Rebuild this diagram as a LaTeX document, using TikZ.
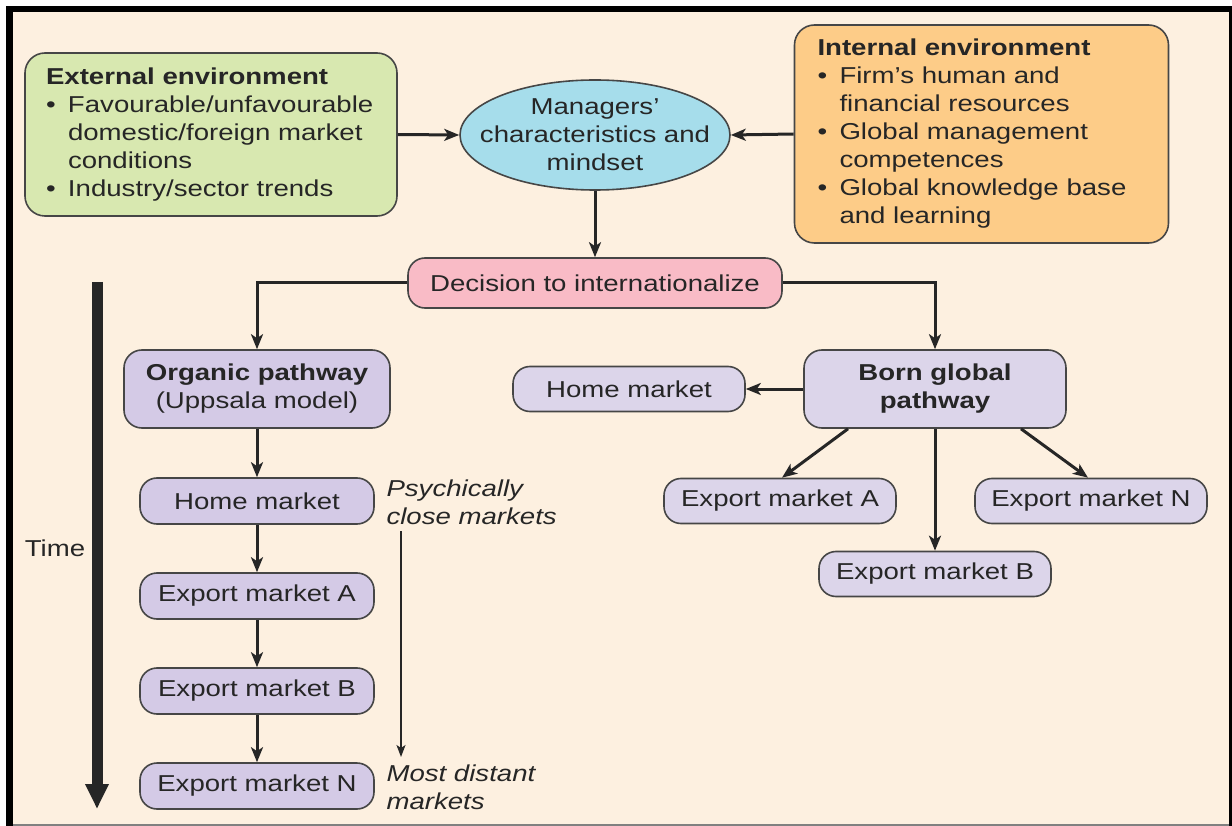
\documentclass[tikz,border=0pt]{standalone}
\usepackage{fontspec}
\setmainfont{Liberation Sans}[FakeStretch=1.2]
\usetikzlibrary{arrows.meta,calc,shapes.geometric}

\definecolor{bgcream}{RGB}{253,240,224}
\definecolor{extgreen}{RGB}{216,232,176}
\definecolor{intorange}{RGB}{253,204,136}
\definecolor{mindblue}{RGB}{166,221,235}
\definecolor{decpink}{RGB}{249,187,198}
\definecolor{orglav}{RGB}{212,202,230}
\definecolor{mktlav}{RGB}{220,213,234}
\definecolor{inkgray}{RGB}{38,38,38}
\definecolor{edgegray}{RGB}{70,70,70}

\newcommand\itembullet{\makebox[22pt][l]{•}}
\newcommand\itemgap{\hspace*{22pt}}

\tikzset{
  panel/.style={draw=edgegray, line width=1.6pt, rounded corners=20pt,
    text=inkgray, align=left, inner xsep=21pt, inner ysep=6pt, anchor=center},
  pathbox/.style={draw=edgegray, line width=1.6pt, rounded corners=18pt,
    text=inkgray, align=center, minimum width=264pt, minimum height=78pt, inner sep=2pt},
  mktbox/.style={draw=edgegray, line width=1.6pt, rounded corners=17pt,
    text=inkgray, align=center, minimum width=234pt, minimum height=46pt, inner sep=2pt},
  flow/.style={line width=3pt, draw=inkgray, -{Stealth[length=15pt,width=12pt,inset=4pt]}},
  thinflow/.style={line width=1.5pt, draw=inkgray, -{Stealth[length=12pt,width=9pt,inset=3pt]}},
  timeflow/.style={line width=11pt, draw=inkgray, -{Triangle[length=25pt,width=22pt]}},
  note/.style={text=inkgray, align=left, anchor=west, font=\fontsize{23}{28}\selectfont\itshape}
}

\begin{document}
\begin{tikzpicture}[x=1pt,y=-1pt,font=\fontsize{23}{28}\selectfont]
\useasboundingbox (0,0) rectangle (1232,826);

% page frame
\fill[white] (0,0) rectangle (1232,826);
\fill[black] (6,6) rectangle (1232,826);
\fill[bgcream] (13,12) rectangle (1229,824);
\fill[gray] (13,824) rectangle (1229,826);

% influences on the decision
\node[panel, fill=extgreen, minimum width=372pt, minimum height=163pt, text width=330pt]
  (ext) at (211,134.5) {\textbf{External environment}\\
  \itembullet Favourable/unfavourable\\
  \itemgap domestic/foreign market\\
  \itemgap conditions\\
  \itembullet Industry/sector trends};

\node[panel, fill=intorange, minimum width=373pt, minimum height=218pt, text width=328pt,
  inner xsep=23pt]
  (int) at (981.5,134) {\textbf{Internal environment}\\
  \itembullet Firm’s human and\\
  \itemgap financial resources\\
  \itembullet Global management\\
  \itemgap competences\\
  \itembullet Global knowledge base\\
  \itemgap and learning};

\node[ellipse, draw=edgegray, line width=1.6pt, fill=mindblue, text=inkgray, align=center,
  minimum width=270pt, minimum height=110pt, inner xsep=-30pt, inner ysep=-8pt]
  (mind) at (595,135) {Managers’\\characteristics and\\mindset};

\node[mktbox, fill=decpink, minimum width=374pt, minimum height=50pt]
  (dec) at (595,283) {Decision to internationalize};

% organic pathway
\node[pathbox, fill=orglav, minimum width=266pt] (org) at (257,389)
  {\textbf{Organic pathway}\\(Uppsala model)};
\node[mktbox, fill=orglav] (lhome) at (257,501) {Home market};
\node[mktbox, fill=orglav] (lA) at (257,596) {Export market A};
\node[mktbox, fill=orglav] (lB) at (257,691) {Export market B};
\node[mktbox, fill=orglav] (lN) at (257,786) {Export market N};

% born global pathway
\node[pathbox, fill=mktlav, minimum width=262pt] (born) at (935,389)
  {\textbf{Born global}\\\textbf{pathway}};
\node[mktbox, fill=mktlav, minimum width=232pt, minimum height=45pt] (rhome) at (629,389) {Home market};
\node[mktbox, fill=mktlav, minimum width=232pt, minimum height=45pt] (rA) at (780,501) {Export market A};
\node[mktbox, fill=mktlav, minimum width=232pt, minimum height=45pt] (rB) at (935,574) {Export market B};
\node[mktbox, fill=mktlav, minimum width=232pt, minimum height=45pt] (rN) at (1091,501) {Export market N};

% time axis and psychic distance
\coordinate (ttop) at (97,282);
\coordinate (tbot) at (97,809);
\draw[timeflow] (ttop) -- (tbot);
\node[text=inkgray] (time) at (55,548) {Time};

\node[note] (close) at (383,502) {Psychically\\close markets};
\node[note] (far) at (383,787) {Most distant\\markets};
\coordinate (dtop) at (401,531);
\coordinate (dbot) at (401,757);
\draw[thinflow] (dtop) -- (dbot);

% connectors
\draw[flow] (ext.east) -- (mind.west);
\draw[flow] (int.west) -- (mind.east);
\draw[flow] (mind.south) -- (dec.north);
\draw[flow] (dec.west) -| (org.north);
\draw[flow] (dec.east) -| (born.north);

\draw[flow] (org.south) -- (lhome.north);
\draw[flow] (lhome.south) -- (lA.north);
\draw[flow] (lA.south) -- (lB.north);
\draw[flow] (lB.south) -- (lN.north);

\draw[flow] (born.west) -- (rhome.east);
\draw[flow] ($(born.south)+(-87,0)$) -- ($(rA.north)+(2,0)$);
\draw[flow] (born.south) -- (rB.north);
\draw[flow] ($(born.south)+(86,0)$) -- ($(rN.north)+(-3,0)$);
\end{tikzpicture}
\end{document}
